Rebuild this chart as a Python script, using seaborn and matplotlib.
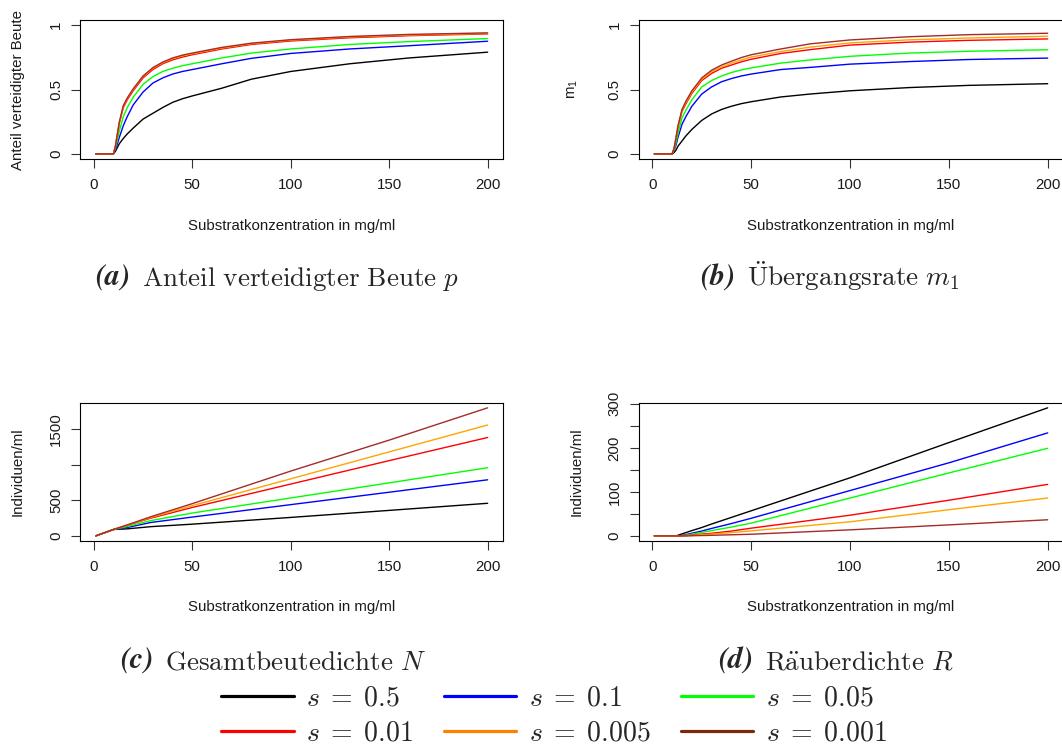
import numpy as np
import pandas as pd
import matplotlib
matplotlib.use("Agg")
import matplotlib.pyplot as plt
import seaborn as sns
from matplotlib.lines import Line2D
from matplotlib.font_manager import FontProperties

# ---------------- data ----------------
s_values = ["0.5", "0.1", "0.05", "0.01", "0.005", "0.001"]
line_colors = ["#000000", "#0000FF", "#00FF00", "#FF0000", "#FFA500", "#A52A2A"]
legend_colors = ["#000000", "#0000FF", "#00FF00", "#FF0000", "#FF8000", "#7A2A0A"]

# (a) Anteil verteidigter Beute p
S_a = [1, 10, 11, 12, 13, 15, 17, 20, 25, 30, 35, 40, 45, 50, 65, 80, 100, 130, 160, 200]
p_05 = [0, 0, 0.02, 0.05, 0.08, 0.12, 0.155, 0.20, 0.27, 0.315, 0.36, 0.40, 0.428, 0.45, 0.51, 0.58, 0.64, 0.70, 0.745, 0.79]
p_01 = [0, 0, 0.03, 0.08, 0.13, 0.22, 0.29, 0.38, 0.48, 0.55, 0.59, 0.62, 0.64, 0.655, 0.70, 0.742, 0.78, 0.815, 0.84, 0.875]
p_005 = [0, 0, 0.045, 0.11, 0.18, 0.29, 0.36, 0.44, 0.54, 0.60, 0.64, 0.665, 0.685, 0.70, 0.745, 0.783, 0.815, 0.85, 0.872, 0.896]
p_001 = [0, 0, 0.06, 0.15, 0.24, 0.36, 0.42, 0.49, 0.59, 0.655, 0.70, 0.73, 0.752, 0.77, 0.815, 0.85, 0.877, 0.902, 0.918, 0.932]
p_0005 = [0, 0, 0.062, 0.155, 0.245, 0.37, 0.43, 0.50, 0.60, 0.665, 0.708, 0.74, 0.762, 0.778, 0.822, 0.856, 0.883, 0.908, 0.923, 0.936]
p_0001 = [0, 0, 0.064, 0.16, 0.25, 0.375, 0.435, 0.505, 0.605, 0.67, 0.713, 0.745, 0.767, 0.783, 0.827, 0.86, 0.887, 0.912, 0.928, 0.94]

# (b) Uebergangsrate m1
S_b = [1, 10, 11, 12, 13, 15, 17, 20, 25, 30, 35, 40, 45, 50, 65, 80, 100, 130, 160, 200]
m1_05 = [0, 0, 0.01, 0.03, 0.06, 0.10, 0.14, 0.19, 0.26, 0.31, 0.345, 0.37, 0.39, 0.405, 0.442, 0.465, 0.49, 0.515, 0.532, 0.545]
m1_01 = [0, 0, 0.025, 0.07, 0.13, 0.23, 0.29, 0.37, 0.465, 0.52, 0.56, 0.585, 0.605, 0.62, 0.655, 0.672, 0.697, 0.717, 0.733, 0.744]
m1_005 = [0, 0, 0.03, 0.09, 0.16, 0.28, 0.34, 0.42, 0.52, 0.57, 0.605, 0.632, 0.652, 0.668, 0.705, 0.73, 0.758, 0.783, 0.797, 0.809]
m1_001 = [0, 0, 0.04, 0.12, 0.21, 0.33, 0.39, 0.47, 0.57, 0.625, 0.665, 0.69, 0.715, 0.735, 0.78, 0.81, 0.845, 0.868, 0.882, 0.893]
m1_0005 = [0, 0, 0.042, 0.125, 0.215, 0.34, 0.40, 0.48, 0.58, 0.64, 0.675, 0.705, 0.73, 0.752, 0.795, 0.83, 0.862, 0.886, 0.90, 0.914]
m1_0001 = [0, 0, 0.045, 0.13, 0.22, 0.345, 0.41, 0.49, 0.59, 0.65, 0.69, 0.72, 0.748, 0.77, 0.815, 0.855, 0.885, 0.91, 0.926, 0.937]

# (c) Gesamtbeutedichte N
S_c = [1, 10, 17, 29, 50, 100, 150, 200]
N_05 = [0, 90, 99, 130, 165, 260, 359, 459]
N_01 = [0, 90, 118, 189, 265, 440, 615, 790]
N_005 = [0, 90, 132, 215, 322, 534, 747, 960]
N_001 = [0, 90, 150, 250, 400, 730, 1060, 1386]
N_0005 = [0, 90, 152, 260, 426, 804, 1183, 1562]
N_0001 = [0, 90, 155, 270, 454, 913, 1349, 1804]

# (d) Raeuberdichte R
S_d = [1, 12, 14, 16, 18, 20, 25, 30, 40, 50, 100, 150, 200]
R_05 = [0, 0, 3, 6, 9, 12, 19, 27, 42, 57, 132, 212, 291]
R_01 = [0, 0, 0, 2, 4, 6, 11, 17, 28, 40, 103, 166, 234]
R_005 = [0, 0, 0, 1, 2.5, 4, 8, 12, 20, 29, 86, 143, 199]
R_001 = [0, 0, 0, 0, 1, 2, 4, 6, 11, 17.5, 47, 81, 117]
R_0005 = [0, 0, 0, 0, 0.5, 1, 2.5, 4, 7.5, 11.4, 32, 59.5, 86]
R_0001 = [0, 0, 0, 0, 0, 0.3, 0.8, 1.3, 2.5, 3.7, 13.7, 25, 36.6]

xticks = [0, 50, 100, 150, 200]
ticks_ab = [0, 0.5, 1]
ticklabels_ab = ["0", "0.5", "1"]
ticks_c = [0, 500, 1000, 1500]
ticklabels_c = ["0", "500", "", "1500"]
ticks_d = [0, 50, 100, 150, 200, 250, 300]
ticklabels_d = ["0", "", "100", "", "200", "", "300"]

xlabel = "Substratkonzentration in mg/ml"


def long_df(S, series):
    frames = []
    for s, vals in zip(s_values, series):
        frames.append(pd.DataFrame({"S": S, "y": vals, "s": s}))
    return pd.concat(frames, ignore_index=True)


df_a = long_df(S_a, [p_05, p_01, p_005, p_001, p_0005, p_0001])
df_b = long_df(S_b, [m1_05, m1_01, m1_005, m1_001, m1_0005, m1_0001])
df_c = long_df(S_c, [N_05, N_01, N_005, N_001, N_0005, N_0001])
df_d = long_df(S_d, [R_05, R_01, R_005, R_001, R_0005, R_0001])

# ---------------- style ----------------
sns.set_theme(context="notebook", style="ticks")
plt.rcParams["font.family"] = ["Liberation Sans", "DejaVu Sans"]
plt.rcParams["mathtext.fontset"] = "custom"
plt.rcParams["mathtext.rm"] = "Liberation Sans"
plt.rcParams["mathtext.it"] = "Liberation Sans:italic"

W, H = 1062, 747
fig = plt.figure(figsize=(W / 100, H / 100), dpi=100)
fig.patch.set_facecolor("white")


def px_axes(left, right, top, bottom):
    return fig.add_axes([left / W, 1 - bottom / H, (right - left) / W, (bottom - top) / H])


palette = dict(zip(s_values, line_colors))
FS = 10.8


def r_pad(lo, hi):
    d = (hi - lo) * 0.04
    return lo - d, hi + d


def draw(ax, df, yticks, yticklabels, ylabel, ylim, ylab_x, xlab_y):
    sns.lineplot(data=df, x="S", y="y", hue="s", hue_order=s_values, palette=palette,
                 legend=False, ax=ax, linewidth=1.0, errorbar=None, sort=True)
    ax.set_xlim(*r_pad(min(df["S"]), max(df["S"])))
    ax.set_ylim(*ylim)
    ax.set_xticks(xticks)
    ax.set_xticklabels([str(t) for t in xticks])
    ax.set_yticks(yticks)
    ax.set_yticklabels(yticklabels)
    for sp in ax.spines.values():
        sp.set_visible(True)
        sp.set_color("black")
        sp.set_linewidth(0.8)
    ax.tick_params(axis="both", direction="out", length=6.5, width=0.8, color="#333333",
                   labelsize=FS, labelcolor="#1a1a1a")
    ax.tick_params(axis="x", pad=7.4)
    ax.tick_params(axis="y", pad=5.8, labelrotation=90)
    for lbl in ax.get_yticklabels():
        lbl.set_va("center")
    ax.set_xlabel(xlabel, fontsize=FS, color="#1a1a1a", va="center")
    ax.set_ylabel(ylabel, fontsize=FS, color="#1a1a1a", va="center")
    ax.xaxis.set_label_coords(0.5, xlab_y)
    ax.yaxis.set_label_coords(ylab_x, 0.5)
    ax.grid(False)


ax_a = px_axes(80.1, 503.3, 20, 159)
ax_b = px_axes(638.6, 1063.4, 20, 159)
ax_c = px_axes(80.1, 503.3, 402.7, 541)
ax_d = px_axes(638.6, 1063.4, 402.7, 541)

draw(ax_a, df_a, ticks_ab, ticklabels_ab, "Anteil verteidigter Beute", r_pad(0, 1),
     (18 - 80.1) / 423.2, -67 / 139)
draw(ax_b, df_b, ticks_ab, ticklabels_ab, r"$\mathrm{m}_1$", r_pad(0, 1),
     (573 - 638.6) / 424.8, -67 / 139)
draw(ax_c, df_c, ticks_c, ticklabels_c, "Individuen/ml", r_pad(0, max(df_c["y"])),
     (18 - 80.1) / 423.2, -65.7 / 138.3)
draw(ax_d, df_d, ticks_d, ticklabels_d, "Individuen/ml", r_pad(0, max(df_d["y"])),
     (576.7 - 638.6) / 424.8, -65.7 / 138.3)

# ---------------- captions ----------------
CAP_FS = 19.5
captions = [
    (95, 286, "(a)", r"$\mathrm{Anteil\ verteidigter\ Beute}\ p$"),
    (700, 286, "(b)", r"$\mathrm{\ddot{U}bergangsrate}\ m_1$"),
    (120, 669, "(c)", r"$\mathrm{Gesamtbeutedichte}\ N$"),
    (718, 669, "(d)", r"$\mathrm{R\ddot{a}uberdichte}\ R$"),
]
renderer = fig.canvas.get_renderer()
for x0, yb, tag, body in captions:
    t1 = fig.text(x0 / W, 1 - yb / H, tag, fontfamily="STIXGeneral", fontweight="bold",
                  fontstyle="italic", fontsize=21.5, ha="left", va="baseline")
    bb = t1.get_window_extent(renderer)
    fig.text((bb.x1 + 12) / W, 1 - yb / H, body, fontsize=CAP_FS, ha="left", va="baseline",
             math_fontfamily="cm")

# ---------------- legend ----------------
handles = [Line2D([0], [0], color=c, lw=2.3) for c in legend_colors]
labels = [r"$s\;=\;%s$" % s for s in s_values]
order = [0, 3, 1, 4, 2, 5]
fig.legend([handles[i] for i in order], [labels[i] for i in order], loc="center",
           bbox_to_anchor=(554 / W, 1 - 716 / H), ncol=3, frameon=False,
           prop=FontProperties(size=20, math_fontfamily="cm"),
           handlelength=2.6, handletextpad=0.45, columnspacing=1.1, labelspacing=0.33,
           borderpad=0.1)

fig.savefig("out.png", dpi=100, facecolor="white")
